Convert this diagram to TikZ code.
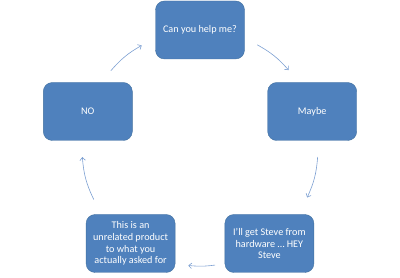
\documentclass[tikz,border=0pt]{standalone}
\usepackage{fontspec}
\setmainfont{Carlito}
\usepackage{tikz}
\usetikzlibrary{calc,arrows.meta}
\definecolor{boxblue}{HTML}{4F81BD}
\definecolor{boxedge}{HTML}{41709F}
\definecolor{arcblue}{HTML}{7DA0D2}

\tikzset{
  cyclebox/.style={rectangle, rounded corners=9pt, draw=boxedge, fill=boxblue,
    text=white, minimum width=89pt, minimum height=58pt, align=center,
    font=\fontsize{10.2}{11.6}\selectfont, inner sep=2pt},
  cyclearc/.style={arcblue, line width=0.6pt, -{Straight Barb[length=3pt,width=5.5pt]}}
}

\begin{document}
\begin{tikzpicture}[x=1pt,y=1pt]
\useasboundingbox (0,0) rectangle (400,278);
\coordinate (ring) at (200,130);
% five steps on a ring, 72 degrees apart
\node[cyclebox] (ask) at (200,248) {Can you help me?};
\node[cyclebox] (maybe) at (312.2,166.5) {Maybe};
\node[cyclebox] (steve) at (269.4,34.5) {I’ll get Steve from\\hardware … HEY\\Steve};
\node[cyclebox] (unrel) at (130.6,34.5) {This is an\\unrelated product\\to what you\\actually asked for};
\node[cyclebox] (no) at (87.8,166.5) {NO};
% arcs in the gaps: from/start offset/to/end offset
\foreach \a/\sa/\b/\eb in {ask/-29/maybe/23.3, maybe/-22.4/steve/29.2,
    steve/-28.7/unrel/30.3, unrel/-28.1/no/22.4, no/-22.9/ask/29.6} {
  \pgfmathsetmacro{\bend}{(72+\sa-\eb)/2}
  \draw[cyclearc] ($(ring)!1!\sa:(\a)$) to[bend left=\bend] ($(ring)!1!\eb:(\b)$);
}
\end{tikzpicture}
\end{document}
